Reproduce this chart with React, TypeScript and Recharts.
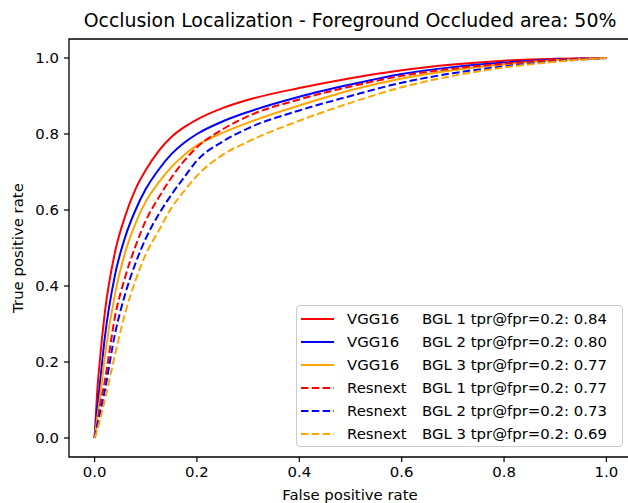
import { LineChart, Line, XAxis, YAxis, ReferenceArea, Legend } from "recharts";

const FONT = "DejaVu Sans, sans-serif";

// false positive rate grid shared by all curves
const fpr = [0, 0.005, 0.01, 0.02, 0.04, 0.06, 0.08, 0.1, 0.125, 0.15, 0.175, 0.2, 0.25, 0.3, 0.4, 0.5, 0.6, 0.7, 0.8, 0.9, 1.0];

// true positive rates
const vgg16Bgl1 = [0, 0.12, 0.2, 0.33, 0.49, 0.585, 0.655, 0.705, 0.755, 0.792, 0.818, 0.838, 0.868, 0.89, 0.921, 0.947, 0.968, 0.983, 0.993, 0.998, 1.0];
const vgg16Bgl2 = [0, 0.075, 0.137, 0.265, 0.43, 0.53, 0.6, 0.655, 0.706, 0.747, 0.777, 0.8, 0.833, 0.858, 0.898, 0.93, 0.958, 0.976, 0.988, 0.996, 1.0];
const vgg16Bgl3 = [0, 0.05, 0.1, 0.215, 0.38, 0.49, 0.565, 0.622, 0.672, 0.713, 0.745, 0.77, 0.803, 0.83, 0.875, 0.915, 0.946, 0.968, 0.983, 0.994, 1.0];
const resnextBgl1 = [0, 0.035, 0.08, 0.15, 0.32, 0.425, 0.505, 0.572, 0.632, 0.685, 0.729, 0.765, 0.812, 0.847, 0.891, 0.925, 0.953, 0.972, 0.985, 0.995, 1.0];
const resnextBgl2 = [0, 0.03, 0.06, 0.125, 0.275, 0.38, 0.46, 0.525, 0.588, 0.64, 0.686, 0.73, 0.78, 0.815, 0.862, 0.9, 0.935, 0.96, 0.978, 0.991, 1.0];
const resnextBgl3 = [0, 0.02, 0.045, 0.1, 0.22, 0.33, 0.415, 0.483, 0.545, 0.605, 0.65, 0.69, 0.745, 0.78, 0.835, 0.882, 0.923, 0.953, 0.975, 0.99, 1.0];

const seriesKeys = ["vgg1", "vgg2", "vgg3", "res1", "res2", "res3"];
const seriesModels = ["VGG16", "VGG16", "VGG16", "Resnext", "Resnext", "Resnext"];
const seriesBgl = ["BGL 1", "BGL 2", "BGL 3", "BGL 1", "BGL 2", "BGL 3"];
const seriesTprAt02 = ["0.84", "0.80", "0.77", "0.77", "0.73", "0.69"];
const seriesColors = ["#ff0000", "#0000ff", "#ffa500", "#ff0000", "#0000ff", "#ffa500"];
const seriesDashed = [false, false, false, true, true, true];

const ticks = [0, 0.2, 0.4, 0.6, 0.8, 1.0];

const allSeries = [vgg16Bgl1, vgg16Bgl2, vgg16Bgl3, resnextBgl1, resnextBgl2, resnextBgl3];
const data = fpr.map((x, i) => {
  const row: Record<string, number> = { fpr: x };
  seriesKeys.forEach((k, s) => {
    row[k] = allSeries[s][i];
  });
  return row;
});

const DASH = "7.5 3.3";
const SMALL = 14.9;

const renderLegend = () => (
  <div
    style={{
      border: "1px solid #cccccc",
      borderRadius: 4,
      background: "rgba(255,255,255,0.8)",
      padding: "1px 4px",
      fontSize: SMALL,
      fontFamily: FONT,
      color: "#000",
      width: 327,
      boxSizing: "border-box",
    }}
  >
    {seriesKeys.map((k, i) => (
      <div key={k} style={{ display: "flex", alignItems: "center", height: 23 }}>
        <svg width={33} height={10} style={{ flex: "none" }}>
          <line
            x1={0}
            y1={5}
            x2={33}
            y2={5}
            stroke={seriesColors[i]}
            strokeWidth={2}
            strokeDasharray={seriesDashed[i] ? DASH : undefined}
          />
        </svg>
        <span style={{ marginLeft: 13, width: 75, flex: "none", whiteSpace: "pre" }}>{seriesModels[i]}</span>
        <span style={{ whiteSpace: "pre" }}>
          {seriesBgl[i]} tpr@fpr=0.2: {seriesTprAt02[i]}
        </span>
      </div>
    ))}
  </div>
);

const tickStyle = { fill: "#000", fontSize: SMALL, fontFamily: FONT };

export default function App() {
  return (
    <div
      style={{
        position: "absolute",
        left: 0,
        top: 0,
        width: 628,
        height: 503,
        overflow: "hidden",
        background: "#fff",
        fontFamily: FONT,
      }}
    >
      <LineChart width={640} height={503} data={data} margin={{ top: 39, right: 8, bottom: 0, left: 0 }}>
        <XAxis
          dataKey="fpr"
          type="number"
          domain={[-0.05, 1.05]}
          ticks={ticks}
          tickFormatter={(v: number) => v.toFixed(1)}
          tick={tickStyle}
          tickSize={5}
          tickMargin={4}
          tickLine={{ stroke: "#000", strokeWidth: 1.2 }}
          axisLine={false}
          height={46}
          allowDataOverflow
        />
        <YAxis
          type="number"
          domain={[-0.05, 1.05]}
          ticks={ticks}
          tickFormatter={(v: number) => v.toFixed(1)}
          tick={tickStyle}
          tickSize={5}
          tickMargin={5}
          tickLine={{ stroke: "#000", strokeWidth: 1.2 }}
          axisLine={false}
          width={69}
          allowDataOverflow
        />
        <ReferenceArea
          x1={-0.05}
          x2={1.05}
          y1={-0.05}
          y2={1.05}
          fill="none"
          stroke="#000"
          strokeWidth={1.3}
        />
        {seriesKeys.map((k, i) => (
          <Line
            key={k}
            dataKey={k}
            type="monotone"
            stroke={seriesColors[i]}
            strokeWidth={2}
            strokeDasharray={seriesDashed[i] ? DASH : undefined}
            dot={false}
            activeDot={false}
            isAnimationActive={false}
          />
        ))}
        <Legend
          content={renderLegend}
          layout="horizontal"
          verticalAlign="middle"
          align="center"
          wrapperStyle={{ left: 296, top: 305, width: 327, height: 143 }}
        />
      </LineChart>
      <svg
        width={628}
        height={503}
        style={{ position: "absolute", left: 0, top: 0, pointerEvents: "none" }}
        fontFamily={FONT}
      >
        <text x={350} y={27} textAnchor="middle" fontSize={18.9} fill="#000">
          Occlusion Localization - Foreground Occluded area: 50%
        </text>
        <text x={350} y={500} textAnchor="middle" fontSize={SMALL} fill="#000">
          False positive rate
        </text>
        <text transform="translate(23,248) rotate(-90)" textAnchor="middle" fontSize={SMALL} fill="#000">
          True positive rate
        </text>
      </svg>
    </div>
  );
}
